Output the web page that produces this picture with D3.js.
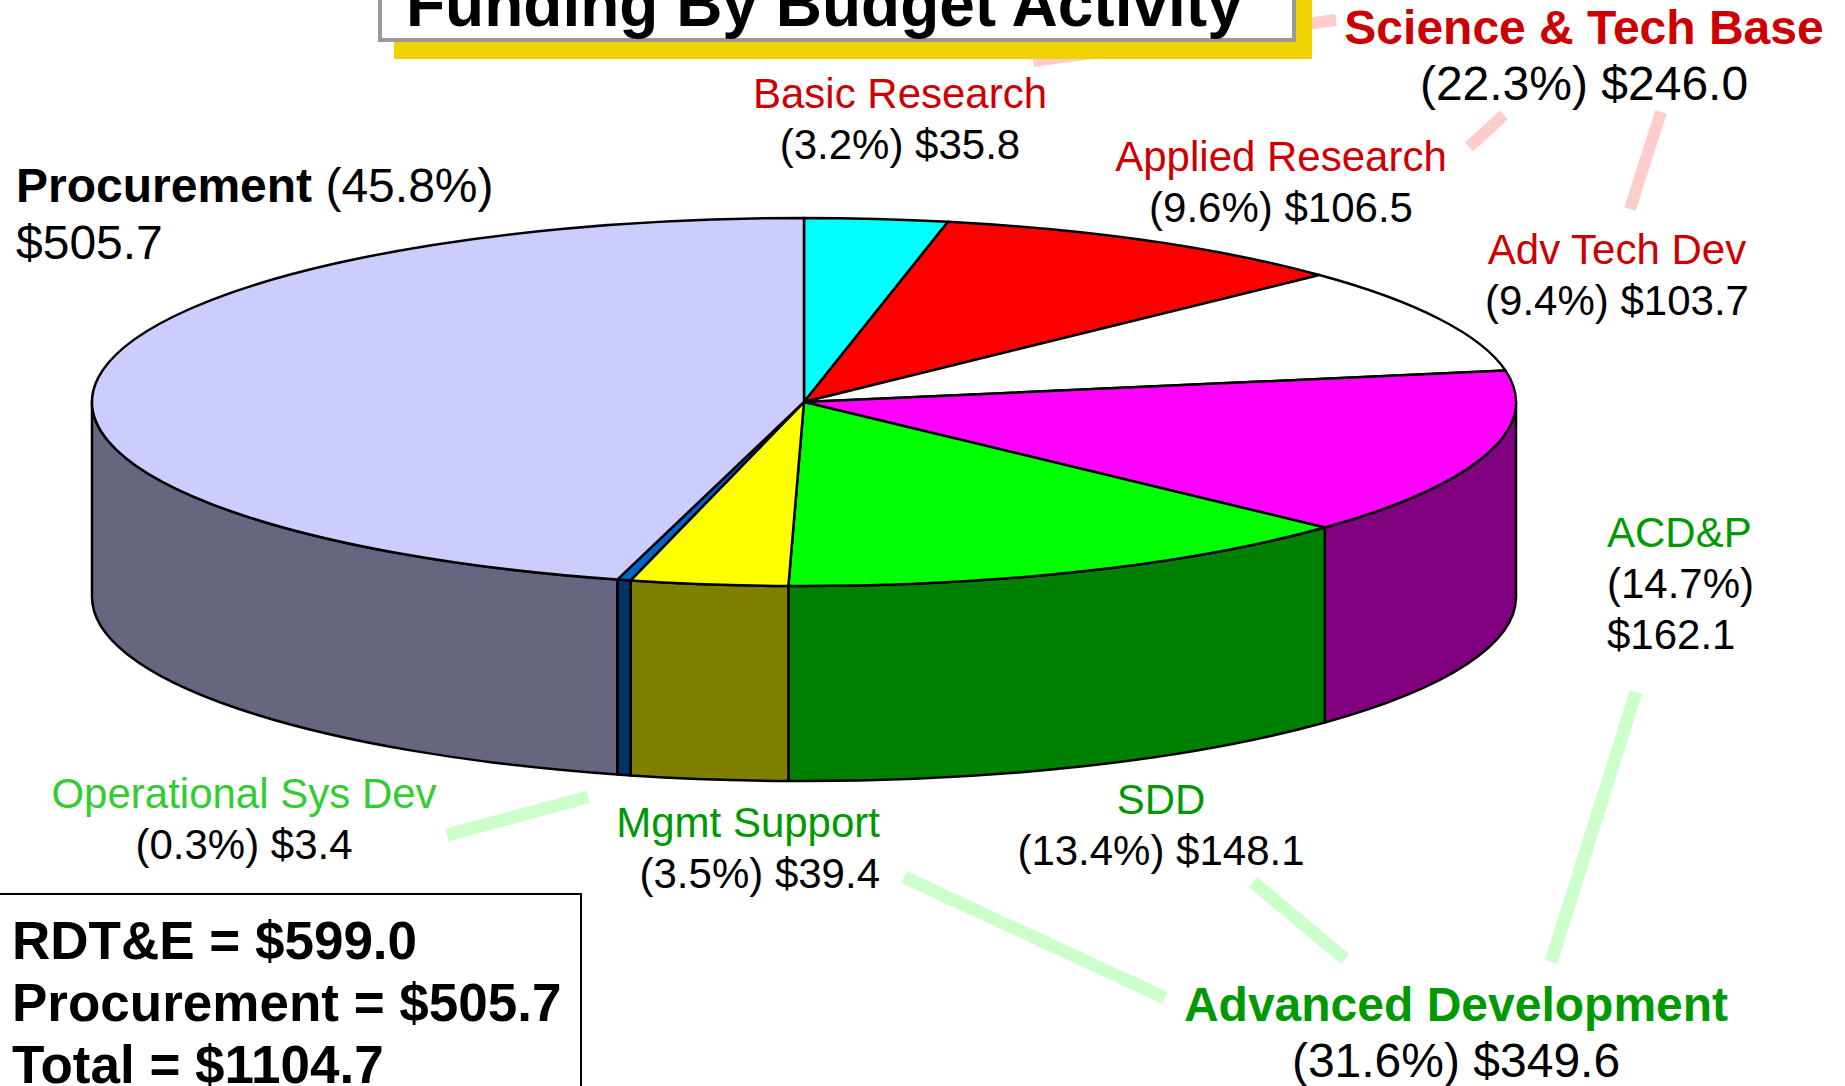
<!DOCTYPE html>
<html>
<head>
<meta charset="utf-8">
<script src="https://cdn.jsdelivr.net/npm/d3@7"></script>
<style>
  body { margin: 0; background: #fff; }
  svg { display: block; font-family: "Liberation Sans", Arial, sans-serif; }
</style>
</head>
<body>
<svg id="chart" width="1845" height="1086"></svg>
<script>
// slices, clockwise from 12 o'clock
var names  = ["Basic Research", "Applied Research", "Adv Tech Dev", "ACD&P", "SDD", "Mgmt Support", "Operational Sys Dev", "Procurement"];
var values = [35.8, 106.5, 103.7, 162.1, 148.1, 39.4, 3.4, 505.7];
var pcts   = ["3.2", "9.6", "9.4", "14.7", "13.4", "3.5", "0.3", "45.8"];

var groupNames  = ["Science & Tech Base", "Advanced Development"];
var groupValues = [246.0, 349.6];
var groupPcts   = ["22.3", "31.6"];

var summaryNames  = ["RDT&E", "Procurement", "Total"];
var summaryValues = [599.0, 505.7, 1104.7];

var titleText = "Funding By Budget Activity";

var topColors  = ["#00FFFF", "#FF0000", "#FFFFFF", "#FF00FF", "#00FF00", "#FFFF00", "#0066CC", "#CCCCFF"];
var sideColors = ["#008080", "#800000", "#808080", "#800080", "#008000", "#808000", "#003366", "#666680"];
var nameColors = ["#CC0000", "#CC0000", "#CC0000", "#009900", "#009900", "#009900", "#33CC33", "#000000"];

var svg = d3.select("#chart");
var cx = 804, cy = 402, rx = 712, ry = 184, depth = 195;

function pt(a, dy) {
  return [cx + rx * Math.sin(a), cy - ry * Math.cos(a) + (dy || 0)];
}

var pie = d3.pie().sort(null).value(function(d) { return d; });
var arcs = pie(values);

// leader lines (drawn first, title box covers one of them)
var pinkLines = [[[1033, 61], [1336, 20]], [[1469, 147], [1504, 115]], [[1630, 209], [1661, 112]]];
var greenLines = [[[447, 835], [588, 797]], [[904, 877], [1165, 998]], [[1253, 882], [1345, 959]], [[1636, 692], [1551, 962]]];
svg.append("g").selectAll("line").data(pinkLines).join("line")
  .attr("x1", d => d[0][0]).attr("y1", d => d[0][1])
  .attr("x2", d => d[1][0]).attr("y2", d => d[1][1])
  .attr("stroke", "#FFCCCC").attr("stroke-width", 12);
svg.append("g").selectAll("line").data(greenLines).join("line")
  .attr("x1", d => d[0][0]).attr("y1", d => d[0][1])
  .attr("x2", d => d[1][0]).attr("y2", d => d[1][1])
  .attr("stroke", "#CCFFCC").attr("stroke-width", 13);

// side walls of the front half
var sides = svg.append("g");
arcs.forEach(function(d, i) {
  var s = Math.max(d.startAngle, Math.PI / 2), e = Math.min(d.endAngle, 3 * Math.PI / 2);
  if (e <= s) return;
  var p0 = pt(s), p1 = pt(e), q1 = pt(e, depth), q0 = pt(s, depth);
  var large = (e - s) > Math.PI ? 1 : 0;
  var path = "M" + p0 + " A" + rx + "," + ry + " 0 " + large + " 1 " + p1 +
    " L" + q1 + " A" + rx + "," + ry + " 0 " + large + " 0 " + q0 + " Z";
  sides.append("path").attr("d", path)
    .attr("fill", sideColors[i]).attr("stroke", "#000").attr("stroke-width", 2.5)
    .attr("stroke-linejoin", "round");
});

// top face
var tops = svg.append("g");
arcs.forEach(function(d, i) {
  var p0 = pt(d.startAngle), p1 = pt(d.endAngle);
  var large = (d.endAngle - d.startAngle) > Math.PI ? 1 : 0;
  var path = "M" + [cx, cy] + " L" + p0 + " A" + rx + "," + ry + " 0 " + large + " 1 " + p1 + " Z";
  tops.append("path").attr("d", path)
    .attr("fill", topColors[i]).attr("stroke", "#000").attr("stroke-width", 2.5)
    .attr("stroke-linejoin", "round");
});

// title box
svg.append("rect").attr("x", 394).attr("y", -30).attr("width", 918).attr("height", 89).attr("fill", "#EFD200");
svg.append("rect").attr("x", 380).attr("y", -50).attr("width", 914).attr("height", 90)
  .attr("fill", "#fff").attr("stroke", "#999").attr("stroke-width", 4);
svg.append("text").attr("x", 406).attr("y", 26).attr("font-size", 64).attr("font-weight", "bold")
  .attr("fill", "#000").text(titleText);

// slice labels: [x, y of first line, anchor]
var labelPos = [[900, 108, "middle"], [1281, 171, "middle"], [1617, 264, "middle"], [1607, 547, "start"],
                [1161, 814, "middle"], [880, 837, "end"], [244, 808, "middle"]];
var lh = 51;
var labels = svg.append("g").attr("font-size", 42);
labelPos.forEach(function(p, i) {
  var t = labels.append("text").attr("x", p[0]).attr("y", p[1]).attr("text-anchor", p[2]);
  t.append("tspan").attr("fill", nameColors[i]).text(names[i]);
  if (names[i] === "ACD&P") {
    t.append("tspan").attr("x", p[0]).attr("dy", lh).attr("fill", "#000").text("(" + pcts[i] + "%)");
    t.append("tspan").attr("x", p[0]).attr("dy", lh).attr("fill", "#000").text("$" + values[i].toFixed(1));
  } else {
    t.append("tspan").attr("x", p[0]).attr("dy", lh).attr("fill", "#000")
      .text("(" + pcts[i] + "%) $" + values[i].toFixed(1));
  }
});

// procurement label
var pr = svg.append("text").attr("x", 16).attr("y", 202).attr("font-size", 48).attr("fill", "#000");
pr.append("tspan").attr("font-weight", "bold").text(names[7]);
pr.append("tspan").text(" (" + pcts[7] + "%)");
pr.append("tspan").attr("x", 16).attr("dy", 57).text("$" + values[7].toFixed(1));

// group labels
var groupPos = [[1584, 44, "#CC0000"], [1456, 1021, "#009900"]];
groupPos.forEach(function(p, i) {
  var t = svg.append("text").attr("x", p[0]).attr("y", p[1]).attr("text-anchor", "middle");
  t.append("tspan").attr("font-size", 48).attr("font-weight", "bold").attr("fill", p[2]).text(groupNames[i]);
  t.append("tspan").attr("x", p[0]).attr("dy", 56).attr("font-size", 48).attr("fill", "#000")
    .text("(" + groupPcts[i] + "%) $" + groupValues[i].toFixed(1));
});

// summary box
svg.append("rect").attr("x", -2).attr("y", 894).attr("width", 583).attr("height", 220)
  .attr("fill", "#fff").attr("stroke", "#000").attr("stroke-width", 2);
svg.append("g").selectAll("text").data(summaryNames).join("text")
  .attr("x", 12).attr("y", (d, i) => 959 + i * 62)
  .attr("font-size", 53).attr("font-weight", "bold").attr("fill", "#000")
  .text((d, i) => d + " = $" + summaryValues[i].toFixed(1));
</script>
</body>
</html>
